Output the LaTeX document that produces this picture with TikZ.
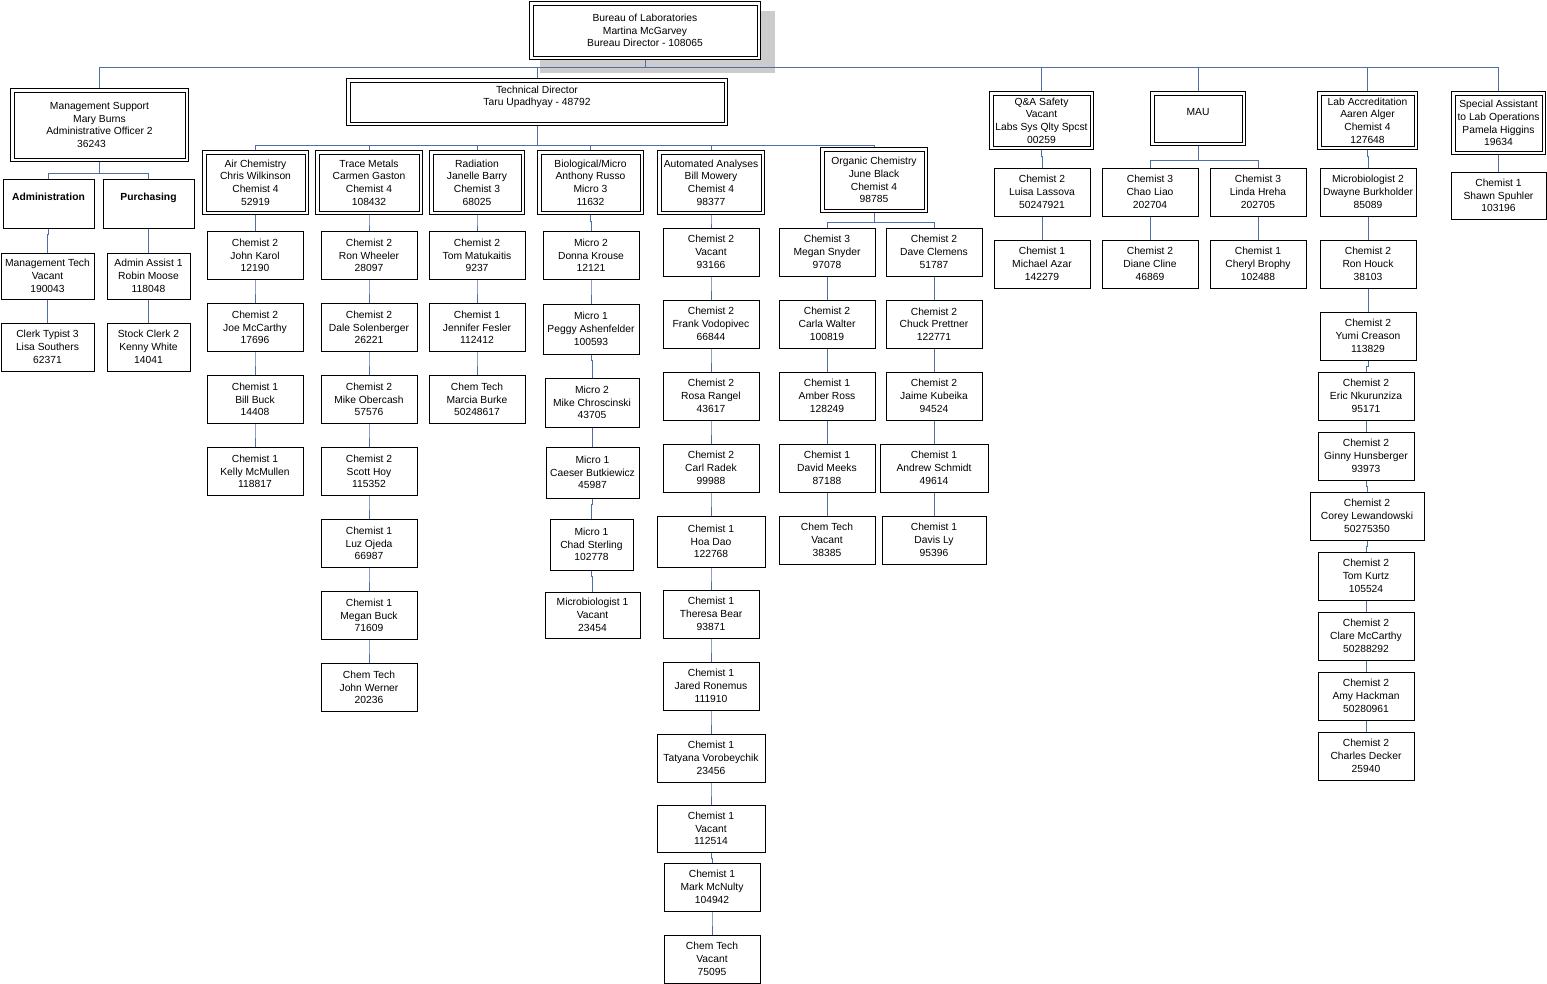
\documentclass[tikz,border=0pt]{standalone}
\usepackage{fontspec}
\setmainfont{Liberation Sans}
\usetikzlibrary{backgrounds}
\definecolor{linkblue}{RGB}{79,110,165}
\tikzset{
  conn/.style={draw=linkblue, line width=0.8pt},
  box/.style={draw, fill=white, line width=0.9pt, align=center, inner sep=0pt,
    minimum width=96pt, minimum height=48pt, font=\fontsize{10.3}{12.7}\selectfont},
  unitbox/.style={box, line width=1.4pt},
}
\begin{document}
\begin{tikzpicture}[x=1pt, y=-1pt]
\useasboundingbox (0,0) rectangle (1547,984);

% Bureau
\node[unitbox, minimum width=230.6pt, minimum height=57.6pt] (bureau) at (645,30.5) {Bureau of Laboratories\\Martina McGarvey\\Bureau Director - 108065};

% Management support
\node[unitbox, minimum width=177.6pt, minimum height=72.6pt] (mgmt) at (99.5,125) {Management Support\\Mary Burns\\Administrative Officer 2\\36243\hspace*{16pt}};
\node[box, minimum width=91pt, minimum height=49pt] (admin) at (48.5,203.5) {\textbf{Administration}\\~};
\node[box, minimum width=91pt, minimum height=49pt] (purch) at (148.5,203.5) {\textbf{Purchasing}\\~};
\node[box, minimum width=93pt, minimum height=46pt] (mtech) at (47.5,276) {Management Tech\\Vacant\\190043};
\node[box, minimum width=93pt] (clerk) at (47.5,347) {Clerk Typist 3\\Lisa Southers\\62371};
\node[box, minimum width=83pt, minimum height=46pt] (assist) at (148.5,276) {Admin Assist 1\\Robin Moose\\118048};
\node[box, minimum width=83pt] (stock) at (148.5,347) {Stock Clerk 2\\Kenny White\\14041};

% Technical director and sections
\node[unitbox, minimum width=380.6pt, minimum height=46.6pt] (tech) at (537,102) {Technical Director\\Taru Upadhyay - 48792\\~};
\node[unitbox, minimum width=105.6pt, minimum height=63.6pt] (air) at (255.5,182.5) {Air Chemistry\\Chris Wilkinson\\Chemist 4\\52919};
\node[unitbox, minimum width=106.6pt, minimum height=63.6pt] (trace) at (369,182.5) {Trace Metals\\Carmen Gaston\\Chemist 4\\108432};
\node[unitbox, minimum width=94.6pt, minimum height=63.6pt] (rad) at (477,182.5) {Radiation\\Janelle Barry\\Chemist 3\\68025};
\node[unitbox, minimum width=105.6pt, minimum height=63.6pt] (bio) at (590.5,182.5) {Biological/Micro\\Anthony Russo\\Micro 3\\11632};
\node[unitbox, minimum width=106.6pt, minimum height=63.6pt] (auto) at (711,182.5) {Automated Analyses\\Bill Mowery\\Chemist 4\\98377};
\node[unitbox, minimum width=106.6pt, minimum height=64.6pt] (org) at (874,180) {Organic Chemistry\\June Black\\Chemist 4\\98785};

% Air chemistry
\node[box] (air1) at (255,255.5) {Chemist 2\\John Karol\\12190};
\node[box] (air2) at (255,327.5) {Chemist 2\\Joe McCarthy\\17696};
\node[box] (air3) at (255,399.5) {Chemist 1\\Bill Buck\\14408};
\node[box] (air4) at (255,471.5) {Chemist 1\\Kelly McMullen\\118817};

% Trace metals
\node[box] (tm1) at (369,255.5) {Chemist 2\\Ron Wheeler\\28097};
\node[box] (tm2) at (369,327.5) {Chemist 2\\Dale Solenberger\\26221};
\node[box] (tm3) at (369,399.5) {Chemist 2\\Mike Obercash\\57576};
\node[box] (tm4) at (369,471.5) {Chemist 2\\Scott Hoy\\115352};
\node[box] (tm5) at (369,543.5) {Chemist 1\\Luz Ojeda\\66987};
\node[box] (tm6) at (369,615.5) {Chemist 1\\Megan Buck\\71609};
\node[box] (tm7) at (369,687.5) {Chem Tech\\John Werner\\20236};

% Radiation
\node[box] (rad1) at (477,255.5) {Chemist 2\\Tom Matukaitis\\9237};
\node[box] (rad2) at (477,327.5) {Chemist 1\\Jennifer Fesler\\112412};
\node[box] (rad3) at (477,399.5) {Chem Tech\\Marcia Burke\\50248617};

% Biological/Micro
\node[box] (bio1) at (591,255.5) {Micro 2\\Donna Krouse\\12121};
\node[box, minimum height=50pt] (bio2) at (591,329) {Micro 1\\Peggy Ashenfelder\\100593};
\node[box, minimum width=94pt, minimum height=49pt] (bio3) at (592,402.5) {Micro 2\\Mike Chroscinski\\43705};
\node[box, minimum width=93pt, minimum height=51pt] (bio4) at (592.5,472.5) {Micro 1\\Caeser Butkiewicz\\45987};
\node[box, minimum width=83pt, minimum height=51pt] (bio5) at (591.5,544.5) {Micro 1\\Chad Sterling\\102778};
\node[box, minimum width=95pt, minimum height=46pt] (bio6) at (592.5,615) {Microbiologist 1\\Vacant\\23454};

% Automated analyses
\node[box] (au1) at (711,252) {Chemist 2\\Vacant\\93166};
\node[box] (au2) at (711,324) {Chemist 2\\Frank Vodopivec\\66844};
\node[box] (au3) at (711,396) {Chemist 2\\Rosa Rangel\\43617};
\node[box] (au4) at (711,468) {Chemist 2\\Carl Radek\\99988};
\node[box, minimum width=108pt, minimum height=51pt] (au5) at (711,541.5) {Chemist 1\\Hoa Dao\\122768};
\node[box] (au6) at (711,614) {Chemist 1\\Theresa Bear\\93871};
\node[box] (au7) at (711,686) {Chemist 1\\Jared Ronemus\\111910};
\node[box, minimum width=108pt] (au8) at (711,758) {Chemist 1\\Tatyana Vorobeychik\\23456};
\node[box, minimum width=108pt, minimum height=47pt] (au9) at (711,828.5) {Chemist 1\\Vacant\\112514};
\node[box] (au10) at (712,887) {Chemist 1\\Mark McNulty\\104942};
\node[box] (au11) at (712,959) {Chem Tech\\Vacant\\75095};

% Organic chemistry
\node[box] (orgl1) at (827,252) {Chemist 3\\Megan Snyder\\97078};
\node[box] (orgl2) at (827,324) {Chemist 2\\Carla Walter\\100819};
\node[box] (orgl3) at (827,396) {Chemist 1\\Amber Ross\\128249};
\node[box] (orgl4) at (827,468) {Chemist 1\\David Meeks\\87188};
\node[box] (orgl5) at (827,540) {Chem Tech\\Vacant\\38385};
\node[box] (orgr1) at (934,252) {Chemist 2\\Dave Clemens\\51787};
\node[box] (orgr2) at (934,324) {Chemist 2\\Chuck Prettner\\122771};
\node[box] (orgr3) at (934,396) {Chemist 2\\Jaime Kubeika\\94524};
\node[box, minimum width=108pt] (orgr4) at (934,468) {Chemist 1\\Andrew Schmidt\\49614};
\node[box, minimum width=104pt] (orgr5) at (934,540) {Chemist 1\\Davis Ly\\95396};

% Q&A safety
\node[unitbox, minimum width=103.6pt, minimum height=57.6pt] (qa) at (1041.5,120.5) {Q\&A Safety\\Vacant\\Labs Sys Qlty Spcst\\00259};
\node[box] (qa1) at (1042,192) {Chemist 2\\Luisa Lassova\\50247921};
\node[box] (qa2) at (1042,264) {Chemist 1\\Michael Azar\\142279};

% MAU
\node[unitbox, minimum width=94.6pt, minimum height=53.6pt] (mau) at (1198,118.5) {MAU\\~};
\node[box] (mau1) at (1150,192) {Chemist 3\\Chao Liao\\202704};
\node[box] (mau2) at (1258,192) {Chemist 3\\Linda Hreha\\202705};
\node[box] (mau3) at (1150,264) {Chemist 2\\Diane Cline\\46869};
\node[box] (mau4) at (1258,264) {Chemist 1\\Cheryl Brophy\\102488};

% Lab accreditation
\node[unitbox, minimum width=99.6pt, minimum height=57.6pt] (labacc) at (1367.5,120.5) {Lab Accreditation\\Aaren Alger\\Chemist 4\\127648};
\node[box] (la1) at (1368,192) {Microbiologist 2\\Dwayne Burkholder\\85089};
\node[box] (la2) at (1368,264) {Chemist 2\\Ron Houck\\38103};
\node[box] (la3) at (1368,336) {Chemist 2\\Yumi Creason\\113829};
\node[box] (la4) at (1366,396) {Chemist 2\\Eric Nkurunziza\\95171};
\node[box] (la5) at (1366,456) {Chemist 2\\Ginny Hunsberger\\93973};
\node[box, minimum width=114pt] (la6) at (1367,516) {Chemist 2\\Corey Lewandowski\\50275350};
\node[box] (la7) at (1366,576) {Chemist 2\\Tom Kurtz\\105524};
\node[box] (la8) at (1366,636) {Chemist 2\\Clare McCarthy\\50288292};
\node[box] (la9) at (1366,696) {Chemist 2\\Amy Hackman\\50280961};
\node[box] (la10) at (1366,756) {Chemist 2\\Charles Decker\\25940};

% Special assistant
\node[unitbox, minimum width=93.6pt, minimum height=62.6pt] (special) at (1498.5,123) {Special Assistant\\to Lab Operations\\Pamela Higgins\\19634};
\node[box, minimum width=95pt, minimum height=47pt] (sp1) at (1498.5,195.5) {Chemist 1\\Shawn Spuhler\\103196};

% inner line of the unit boxes
\foreach \n in {bureau,mgmt,tech,air,trace,rad,bio,auto,org,qa,mau,labacc,special}
  \draw[line width=0.7pt] ([shift={(3.9pt,-3.9pt)}]\n.north west) rectangle ([shift={(-3.9pt,3.9pt)}]\n.south east);

% Shadow and connectors
\begin{pgfonlayer}{background}
  \fill[gray!40] ([shift={(11pt,-10pt)}]bureau.north west) rectangle ([shift={(14pt,-13pt)}]bureau.south east);
  \draw[conn] (bureau.south) -- ++(0,7.7) coordinate (topbus);
  \foreach \n in {mgmt,tech,qa,mau,labacc,special}
    \draw[conn] (topbus) -| (\n.north);
  \foreach \n in {admin,purch}
    \draw[conn] (mgmt.south) -- ++(0,11.7) -| (\n.north);
  \foreach \n in {air,trace,rad,bio,auto,org}
    \draw[conn] (tech.south) -- ++(0,19.7) -| (\n.north);
  \foreach \n in {orgl1,orgr1}
    \draw[conn] (org.south) -- ++(0,9.7) -| (\n.north);
  \foreach \n in {mau1,mau2}
    \draw[conn] (mau.south) -- ++(0,14.7) -| (\n.north);
  \foreach \a/\b in {admin/mtech, mtech/clerk, purch/assist, assist/stock,
      air/air1, air1/air2, air2/air3, air3/air4,
      trace/tm1, tm1/tm2, tm2/tm3, tm3/tm4, tm4/tm5, tm5/tm6, tm6/tm7,
      rad/rad1, rad1/rad2, rad2/rad3,
      bio/bio1, bio1/bio2, bio2/bio3, bio3/bio4, bio4/bio5, bio5/bio6,
      auto/au1, au1/au2, au2/au3, au3/au4, au4/au5, au5/au6, au6/au7,
      au7/au8, au8/au9, au9/au10, au10/au11,
      orgl1/orgl2, orgl2/orgl3, orgl3/orgl4, orgl4/orgl5,
      orgr1/orgr2, orgr2/orgr3, orgr3/orgr4, orgr4/orgr5,
      qa/qa1, qa1/qa2, mau1/mau3, mau2/mau4,
      labacc/la1, la1/la2, la2/la3, la3/la4, la4/la5, la5/la6,
      la6/la7, la7/la8, la8/la9, la9/la10,
      special/sp1}
    \draw[conn] (\a.south) -- ++(0,6) -| (\b.north);
\end{pgfonlayer}
\end{tikzpicture}
\end{document}
